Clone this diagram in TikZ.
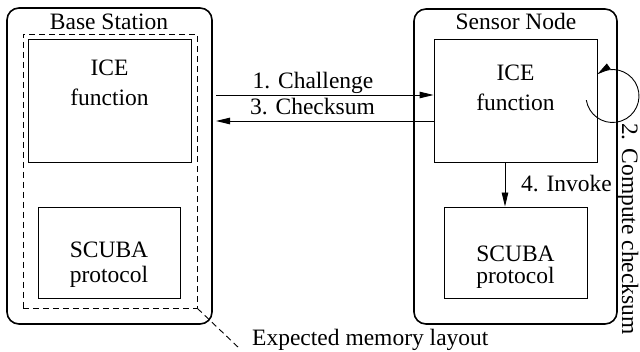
\documentclass[tikz,border=0pt]{standalone}
\usepackage{fontspec}
\setmainfont{Liberation Serif}
\newfontfamily\timesf{Liberation Serif}
\usetikzlibrary{arrows.meta}
\begin{document}
\begin{tikzpicture}[x=1pt,y=-1pt, font=\timesf\fontsize{23.5}{28}\selectfont,
 outer/.style={draw, line width=1.6pt, rounded corners=12pt, inner sep=0pt},
 box/.style={draw, line width=0.9pt, inner sep=0pt},
 memstyle/.style={draw, line width=0.9pt, dash pattern=on 6pt off 4pt, inner sep=0pt},
 arr/.style={line width=0.9pt, -{Triangle[length=14pt,width=6.5pt]}},
 lbl/.style={inner sep=0pt, anchor=base}]
\useasboundingbox (0,0) rectangle (640,352);
% containers
\node[outer, minimum width=205pt, minimum height=316pt] (bs) at (109.5,166) {};
\node[outer, minimum width=203pt, minimum height=315pt] (sn) at (515.5,166.5) {};
\node[memstyle, minimum width=174pt, minimum height=274pt] (mem) at (110,171) {};
% boxes
\node[box, minimum width=163pt, minimum height=123pt] (iceL) at (109.5,100.5) {};
\node[box, minimum width=142pt, minimum height=91pt] (scL) at (109,252.5) {};
\node[box, minimum width=163pt, minimum height=123pt] (iceR) at (515.5,100.5) {};
\node[box, minimum width=143pt, minimum height=91pt] (scR) at (515.5,252.5) {};
% titles
\node[lbl] (tbs) at (109,30) {Base Station};
\node[lbl] (tsn) at (516,30) {Sensor Node};
% box texts
\node[lbl] (iceL1) at (109.5,76) {ICE};
\node[lbl] (iceL2) at (109.5,106) {function};
\node[lbl] (iceR1) at (515.5,81) {ICE};
\node[lbl] (iceR2) at (515.5,111) {function};
\node[lbl] (scL1) at (109,258) {SCUBA};
\node[lbl] (scL2) at (109,283) {protocol};
\node[lbl] (scR1) at (515.5,262) {SCUBA};
\node[lbl] (scR2) at (515.5,284) {protocol};
% messages
\coordinate (c1) at (216,95);
\coordinate (c3) at (216,121);
\draw[arr] (c1) -- (c1 -| iceR.west);
\draw[arr] (c3 -| iceR.west) -- (c3);
\node[lbl] (l1) at (313,89) {1. Challenge};
\node[lbl] (l3) at (312.5,115) {3. Checksum};
% invoke
\draw[arr] ([xshift=-10.5pt]iceR.south) -- ([xshift=-10.5pt]scR.north);
\node[lbl, anchor=base west] (l4) at (521,192) {4. Invoke};
% self loop
\coordinate (lc) at (612.5,96);
\draw[arr] ([shift={(171:26.5)}]lc) arc[start angle=171, end angle=-125, radius=26.5];
\node[lbl, rotate=-90, anchor=base west] (l2) at (622,123) {2. Compute checksum};
% expected memory layout
\coordinate (me) at (240,349);
\draw[line width=0.9pt, dash pattern=on 6pt off 4pt] (mem.south east) -- (me);
\node[lbl, anchor=base west] (lm) at (252,346) {Expected memory layout};
\end{tikzpicture}
\end{document}
